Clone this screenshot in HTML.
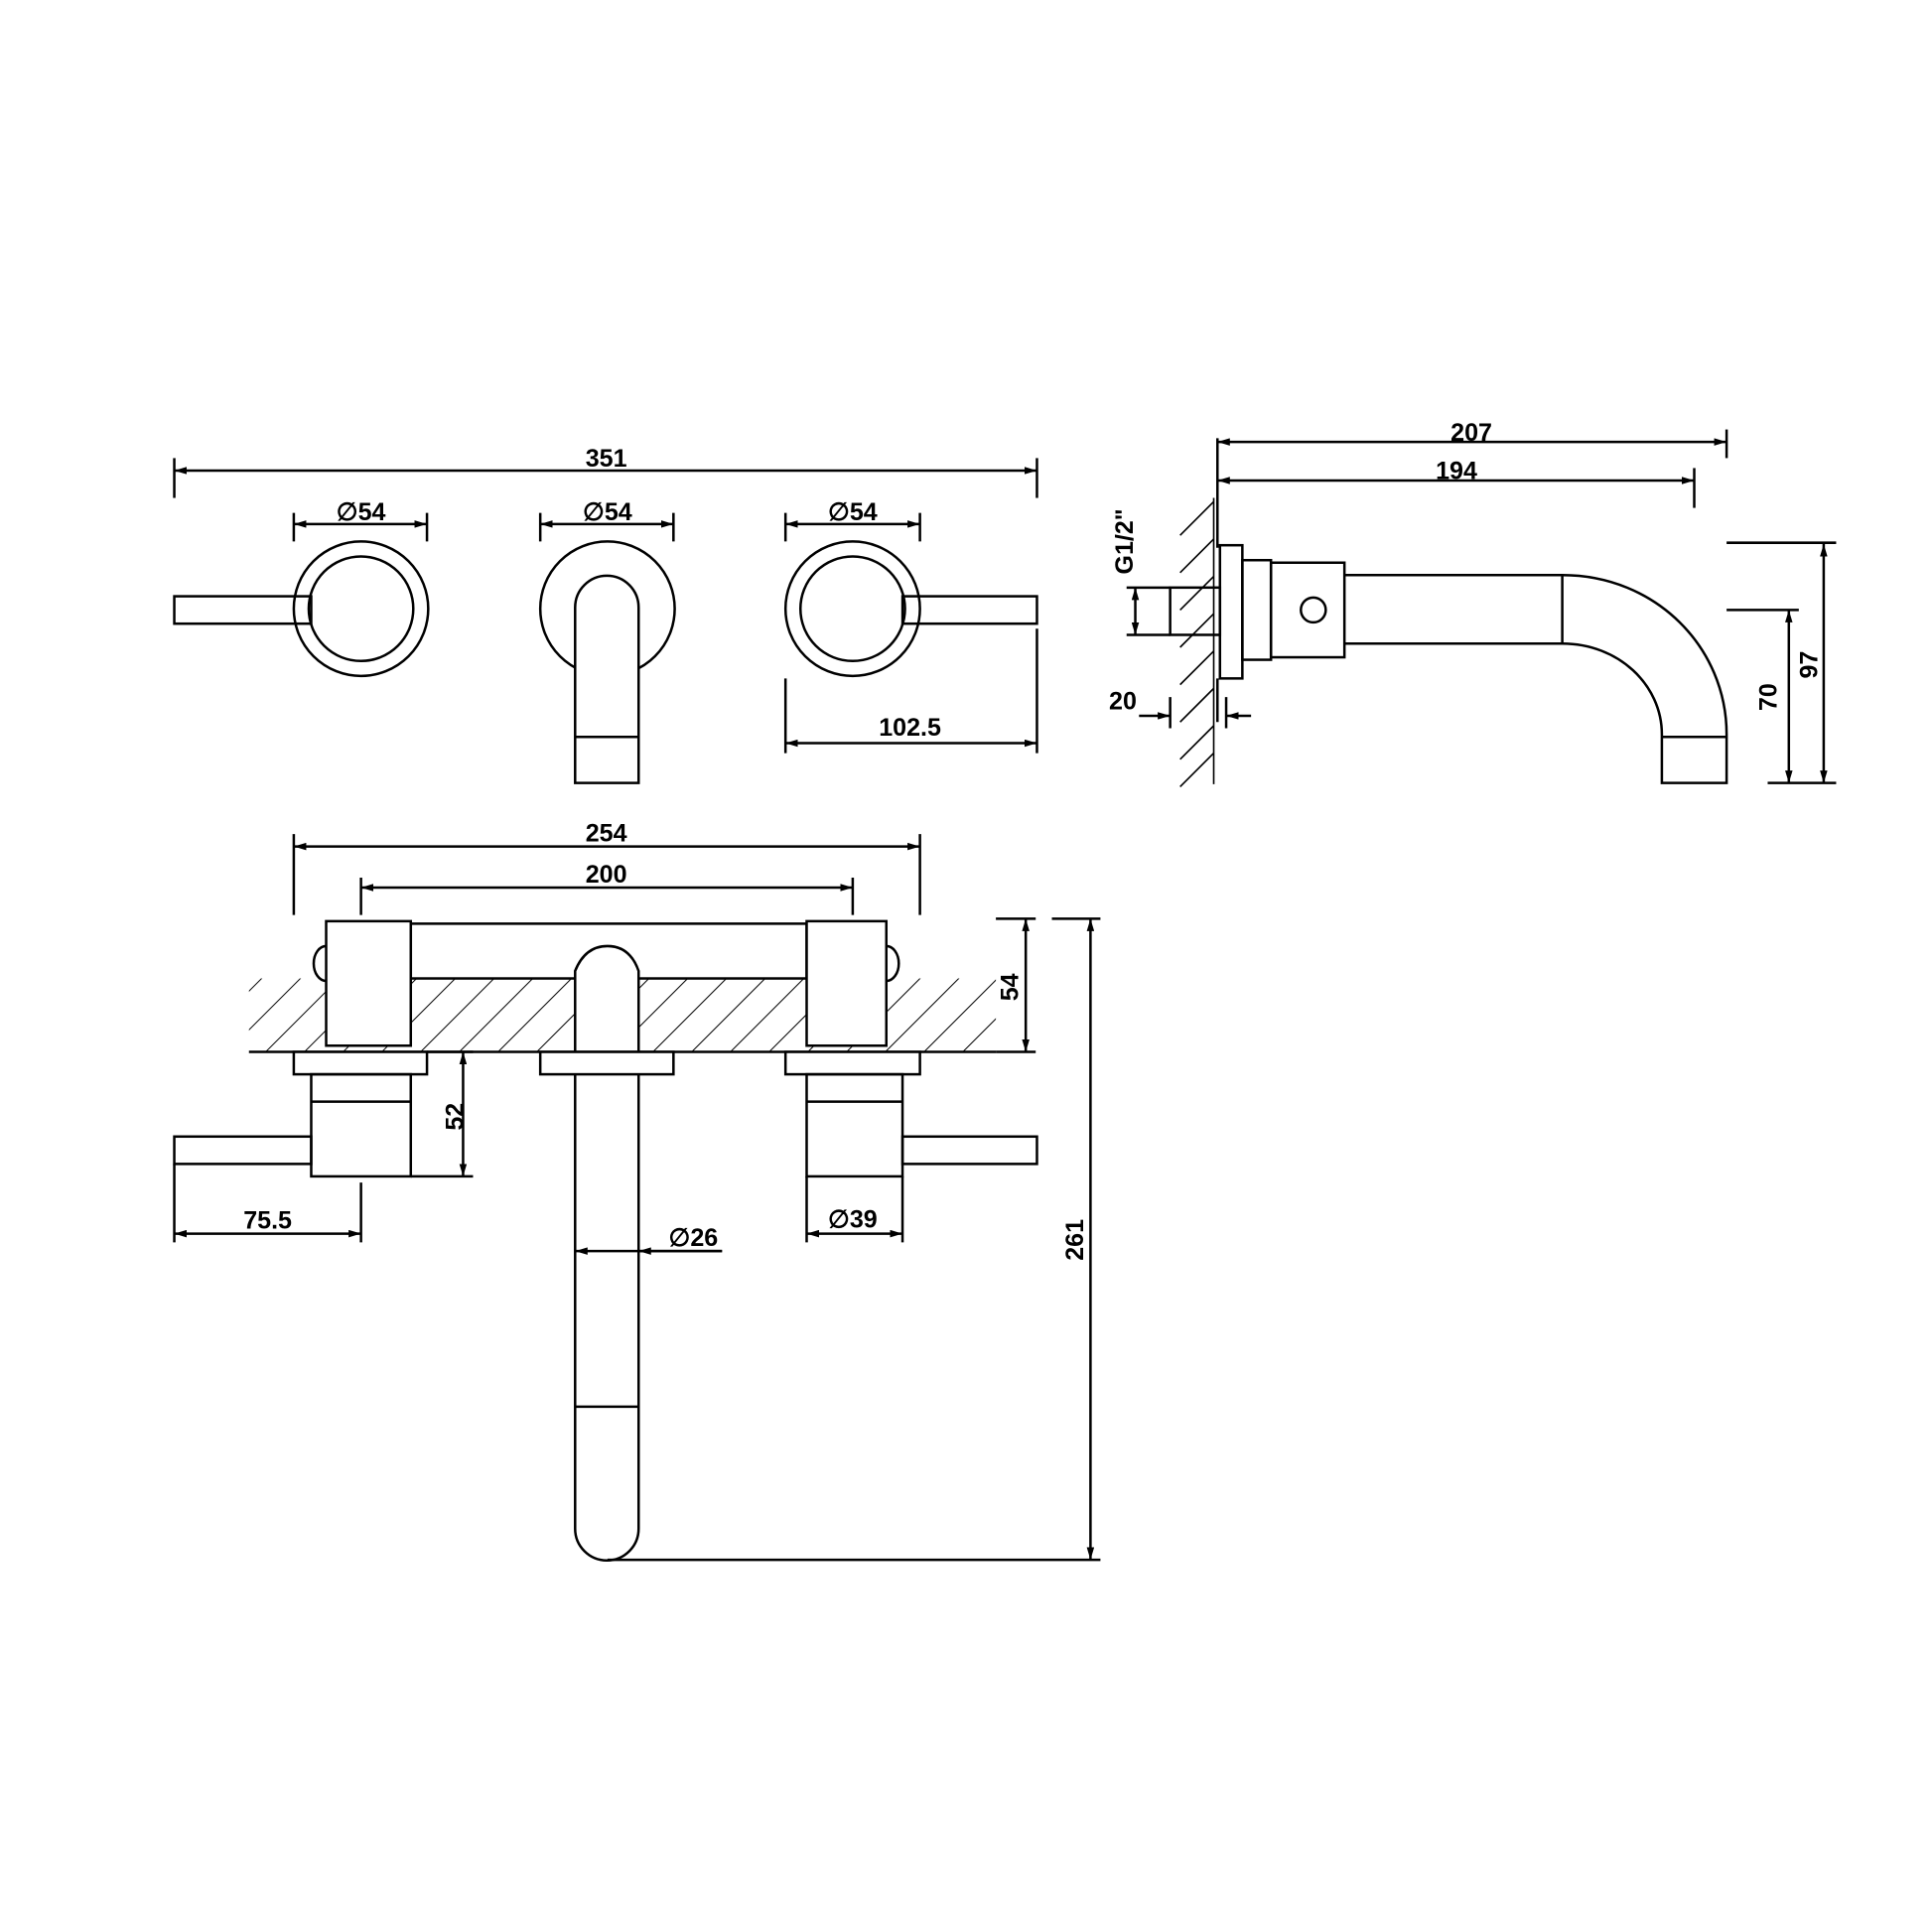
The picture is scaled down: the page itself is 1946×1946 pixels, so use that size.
<!DOCTYPE html>
<html><head><meta charset="utf-8"><style>html,body{margin:0;padding:0;background:#fff}svg{display:block}</style></head>
<body>
<svg width="1946" height="1946" viewBox="0 0 1552 1552" xmlns="http://www.w3.org/2000/svg">
<defs>
<marker id="a" viewBox="0 0 10 6" refX="10" refY="3" markerWidth="10" markerHeight="6" orient="auto-start-reverse" markerUnits="userSpaceOnUse"><path d="M0,0L10,3L0,6z" fill="#000"/></marker>
<pattern id="h" width="22" height="22" patternUnits="userSpaceOnUse" patternTransform="rotate(45)"><line x1="0" y1="0" x2="0" y2="22" stroke="#000" stroke-width="1.6"/></pattern>
</defs>
<g font-family="Liberation Sans, sans-serif" font-weight="bold" font-size="20" text-anchor="middle" fill="#000">
<text x="487" y="375">351</text>
<text x="290" y="418">∅54</text><text x="488" y="418">∅54</text><text x="685" y="418">∅54</text>
<text x="731" y="591">102.5</text>
<text x="1182" y="354">207</text><text x="1170" y="385">194</text>
<text x="902" y="570">20</text>
<text transform="translate(910,435) rotate(-90)">G1/2"</text>
<text transform="translate(1427,560) rotate(-90)">70</text>
<text transform="translate(1460,534) rotate(-90)">97</text>
<text x="487" y="676">254</text><text x="487" y="709">200</text>
<text transform="translate(818,793) rotate(-90)">54</text>
<text transform="translate(372,897) rotate(-90)">52</text>
<text transform="translate(870,996) rotate(-90)">261</text>
<text x="215" y="987">75.5</text>
<text x="557" y="1001">∅26</text>
<text x="685" y="986">∅39</text>
<text x="296" y="802" font-size="18" font-weight="normal">H</text>
<text x="679" y="802" font-size="18" font-weight="normal">C</text>
</g>
<g stroke="#000" stroke-width="2" fill="none">
<line x1="140" y1="378" x2="833" y2="378" marker-start="url(#a)" marker-end="url(#a)"/>
<line x1="140" y1="368" x2="140" y2="400"/><line x1="833" y1="368" x2="833" y2="400"/>
<line x1="236" y1="421" x2="343" y2="421" marker-start="url(#a)" marker-end="url(#a)"/>
<line x1="434" y1="421" x2="541" y2="421" marker-start="url(#a)" marker-end="url(#a)"/>
<line x1="631" y1="421" x2="739" y2="421" marker-start="url(#a)" marker-end="url(#a)"/>
<path d="M236 412V435M343 412V435M434 412V435M541 412V435M631 412V435M739 412V435"/>
<circle cx="290" cy="489" r="54"/><circle cx="290" cy="489" r="42"/>
<rect x="140" y="479" width="110" height="22"/>
<circle cx="488" cy="489" r="54"/>
<path d="M462 629V488a25.5 25.5 0 0 1 51 0V629Z" fill="#fff"/><line x1="462" y1="592" x2="513" y2="592"/>
<circle cx="685" cy="489" r="54"/><circle cx="685" cy="489" r="42"/>
<rect x="725" y="479" width="108" height="22"/>
<line x1="631" y1="597" x2="833" y2="597" marker-start="url(#a)" marker-end="url(#a)"/>
<path d="M631 545V605M833 505V605"/>
<path d="M978 352V440M978 545V580"/>
<line x1="978" y1="355" x2="1387" y2="355" marker-start="url(#a)" marker-end="url(#a)"/>
<line x1="1387" y1="345" x2="1387" y2="368"/>
<line x1="978" y1="386" x2="1361" y2="386" marker-start="url(#a)" marker-end="url(#a)"/>
<line x1="1361" y1="376" x2="1361" y2="408"/>
<path d="M948 430L975 403M948 460L975 433M948 490L975 463M948 520L975 493M948 550L975 523M948 580L975 553M948 610L975 583M948 632L975 605" stroke-width="1.3"/>
<line x1="975" y1="400" x2="975" y2="630" stroke-width="1.3"/>
<rect x="940" y="472" width="40" height="38"/>
<rect x="980" y="438" width="18" height="107"/>
<rect x="998" y="450" width="23" height="80"/>
<rect x="1021" y="452" width="59" height="76"/>
<circle cx="1055" cy="490" r="10"/>
<path d="M1080 462H1255C1330 462 1387 520 1387 590V629H1335V590C1335 550 1300 517 1255 517H1080"/>
<line x1="1335" y1="592" x2="1387" y2="592"/>
<line x1="1255" y1="462" x2="1255" y2="517"/>
<line x1="912" y1="472" x2="912" y2="510" marker-start="url(#a)" marker-end="url(#a)"/>
<path d="M905 472H940M905 510H940"/>
<path d="M940 560V585M985 560V585"/>
<line x1="915" y1="575" x2="940" y2="575" marker-end="url(#a)"/>
<line x1="1005" y1="575" x2="985" y2="575" marker-end="url(#a)"/>
<path d="M1387 436H1475M1387 490H1445M1420 629H1475"/>
<line x1="1437" y1="490" x2="1437" y2="629" marker-start="url(#a)" marker-end="url(#a)"/>
<line x1="1465" y1="437" x2="1465" y2="629" marker-start="url(#a)" marker-end="url(#a)"/>
<line x1="236" y1="680" x2="739" y2="680" marker-start="url(#a)" marker-end="url(#a)"/>
<path d="M236 670V735M739 670V735M290 705V735M685 705V735"/>
<line x1="290" y1="713" x2="685" y2="713" marker-start="url(#a)" marker-end="url(#a)"/>
<rect x="200" y="786" width="600" height="59" fill="url(#h)" stroke="none"/>
<line x1="200" y1="845" x2="800" y2="845"/>
<rect x="330" y="742" width="318" height="44" fill="#fff"/>
<rect x="262" y="740" width="68" height="100" fill="#fff"/>
<rect x="648" y="740" width="64" height="100" fill="#fff"/>
<path d="M262 760a10 14 0 0 0 0 28M712 760a10 14 0 0 1 0 28"/>
<path d="M462 845V780Q470 760 488 760Q506 760 513 780V845Z" fill="#fff"/>
<rect x="236" y="845" width="107" height="18" fill="#fff"/>
<rect x="434" y="845" width="107" height="18" fill="#fff"/>
<rect x="631" y="845" width="108" height="18" fill="#fff"/>
<rect x="250" y="863" width="80" height="82"/><line x1="250" y1="885" x2="330" y2="885"/>
<rect x="648" y="863" width="77" height="82"/><line x1="648" y1="885" x2="725" y2="885"/>
<rect x="140" y="913" width="110" height="22"/>
<rect x="725" y="913" width="108" height="22"/>
<path d="M462 863V1228a25.5 25.5 0 0 0 51 0V863"/><line x1="462" y1="1130" x2="513" y2="1130"/>
<path d="M343 845H380M330 945H380"/>
<line x1="372" y1="845" x2="372" y2="945" marker-start="url(#a)" marker-end="url(#a)"/>
<path d="M800 738H832M800 845H832"/>
<line x1="824" y1="738" x2="824" y2="845" marker-start="url(#a)" marker-end="url(#a)"/>
<path d="M845 738H884M488 1253H884"/>
<line x1="876" y1="738" x2="876" y2="1253" marker-start="url(#a)" marker-end="url(#a)"/>
<path d="M140 935V998M290 950V998"/>
<line x1="140" y1="991" x2="290" y2="991" marker-start="url(#a)" marker-end="url(#a)"/>
<line x1="462" y1="1005" x2="580" y2="1005" marker-start="url(#a)"/>
<line x1="513" y1="1005" x2="580" y2="1005" marker-start="url(#a)"/>
<path d="M648 945V998M725 945V998"/>
<line x1="648" y1="991" x2="725" y2="991" marker-start="url(#a)" marker-end="url(#a)"/>
</g>
</svg>
</body></html>
